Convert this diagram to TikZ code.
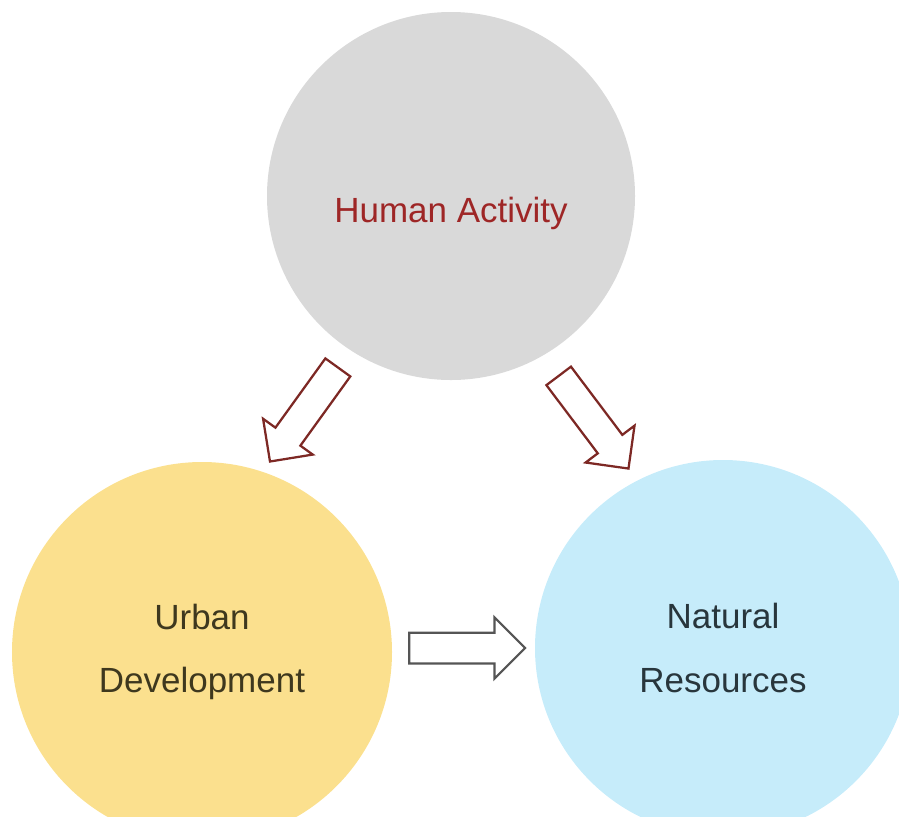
\documentclass[tikz,border=0pt]{standalone}
\usepackage{fontspec}
\setmainfont{Liberation Sans}
\usepackage{tikz}
\usetikzlibrary{shapes.arrows}

\definecolor{humangray}{RGB}{217,217,217}
\definecolor{urbanyellow}{RGB}{251,224,142}
\definecolor{naturalblue}{RGB}{198,236,250}
\definecolor{humanred}{RGB}{158,38,38}
\definecolor{urbantext}{RGB}{62,56,30}
\definecolor{naturaltext}{RGB}{40,54,60}
\definecolor{arrowred}{RGB}{125,40,36}
\definecolor{arrowgray}{RGB}{85,85,85}

\begin{document}
\begin{tikzpicture}[x=0.2mm, y=0.2mm,
  bubble/.style={circle, inner sep=0pt, align=center,
    font=\fontsize{19.9pt}{35.9pt}\selectfont},
  blockarrow/.style={single arrow, draw, fill=white, line width=0.45mm,
    minimum height=23.2mm, inner xsep=0pt, inner ysep=2.85mm,
    single arrow head extend=3.05mm, anchor=tail}]
\useasboundingbox (0,0) rectangle (899,-816);
%circles
\node [bubble, fill=humangray, minimum size=73.6mm] (human) at (451,-196) {};
\node [bubble, text=humanred] (humanlabel) at ([yshift=-3.4mm]human.center) {Human Activity};
\node [bubble, fill=urbanyellow, minimum size=76mm, text=urbantext] (urban) at (202,-652) {Urban\\Development};
\node [bubble, fill=naturalblue, minimum size=75.2mm, text=naturaltext] (natural) at (723,-648) {Natural\\Resources};
%arrows (placed by their tails)
\node [blockarrow, draw=arrowred, rotate=234.2] (toleft) at (338.5,-366.5) {};
\node [blockarrow, draw=arrowred, rotate=-53] (toright) at (558,-375) {};
\node [blockarrow, draw=arrowgray] (across) at (408,-648) {};
\end{tikzpicture}
\end{document}
